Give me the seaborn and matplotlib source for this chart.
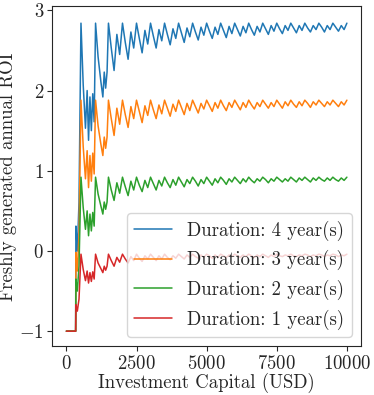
import numpy as np
import pandas as pd
import seaborn as sns
import matplotlib.pyplot as plt

# investment capital samples (USD)
x_early = [0, 330, 340, 390, 450, 520, 600, 680, 740, 790, 840, 890, 940, 990,
           1040, 1130, 1230, 1300, 1350, 1400, 1450]
x_late = list(range(1500, 10001, 100))

# ROI per duration
roi4_early = [-1, -1, 0.31, 0.00, 0.61, 2.84, 2.07, 1.53, 2.00, 1.38, 1.92, 1.50, 1.96, 1.61,
              2.84, 2.42, 2.11, 1.92, 2.23, 2.03, 2.23]
roi3_early = [-1, -1, -0.02, -0.25, 0.21, 1.88, 1.30, 0.90, 1.25, 0.79, 1.19, 0.87, 1.22, 0.96,
              1.88, 1.56, 1.33, 1.19, 1.42, 1.28, 1.42]
roi2_early = [-1, -1, -0.35, -0.50, -0.19, 0.92, 0.54, 0.27, 0.50, 0.19, 0.46, 0.25, 0.48, 0.31,
              0.92, 0.71, 0.56, 0.46, 0.61, 0.52, 0.61]
roi1_early = [-1, -1, -0.67, -0.75, -0.60, -0.04, -0.23, -0.37, -0.25, -0.40, -0.27, -0.38, -0.26, -0.35,
              -0.04, -0.15, -0.22, -0.27, -0.19, -0.24, -0.19]

roi4_late = [2.84, 2.53, 2.25, 2.70, 2.45,  2.84, 2.60, 2.39, 2.73, 2.53,
             2.84, 2.65, 2.47, 2.75, 2.58,  2.84, 2.68, 2.53, 2.76, 2.62,
             2.84, 2.70, 2.57, 2.77, 2.65,  2.84, 2.72, 2.60, 2.78, 2.67,
             2.84, 2.73, 2.63, 2.79, 2.69,  2.84, 2.74, 2.65, 2.79, 2.70,
             2.84, 2.75, 2.66, 2.80, 2.71,  2.84, 2.76, 2.68, 2.80, 2.72,
             2.84, 2.76, 2.69, 2.80, 2.73,  2.84, 2.77, 2.70, 2.81, 2.74,
             2.84, 2.77, 2.71, 2.81, 2.75,  2.84, 2.78, 2.72, 2.81, 2.75,
             2.84, 2.78, 2.73, 2.81, 2.76,  2.84, 2.79, 2.73, 2.81, 2.76,
             2.84, 2.79, 2.74, 2.81, 2.76,  2.84]
roi3_late = [1.88, 1.65, 1.44, 1.78, 1.58,  1.88, 1.70, 1.54, 1.80, 1.65,
             1.88, 1.74, 1.60, 1.81, 1.69,  1.88, 1.76, 1.65, 1.82, 1.71,
             1.88, 1.78, 1.68, 1.83, 1.74,  1.88, 1.79, 1.70, 1.84, 1.75,
             1.88, 1.80, 1.72, 1.84, 1.77,  1.88, 1.81, 1.74, 1.85, 1.78,
             1.88, 1.81, 1.75, 1.85, 1.79,  1.88, 1.82, 1.76, 1.85, 1.79,
             1.88, 1.82, 1.77, 1.85, 1.80,  1.88, 1.83, 1.78, 1.85, 1.80,
             1.88, 1.83, 1.78, 1.86, 1.81,  1.88, 1.83, 1.79, 1.86, 1.81,
             1.88, 1.84, 1.79, 1.86, 1.82,  1.88, 1.84, 1.80, 1.86, 1.82,
             1.88, 1.84, 1.80, 1.86, 1.82,  1.88]
roi2_late = [0.92, 0.76, 0.63, 0.85, 0.72,  0.92, 0.80, 0.69, 0.87, 0.76,
             0.92, 0.82, 0.74, 0.88, 0.79,  0.92, 0.84, 0.76, 0.88, 0.81,
             0.92, 0.85, 0.79, 0.89, 0.82,  0.92, 0.86, 0.80, 0.89, 0.84,
             0.92, 0.87, 0.81, 0.89, 0.84,  0.92, 0.87, 0.82, 0.90, 0.85,
             0.92, 0.88, 0.83, 0.90, 0.86,  0.92, 0.88, 0.84, 0.90, 0.86,
             0.92, 0.88, 0.85, 0.90, 0.87,  0.92, 0.89, 0.85, 0.90, 0.87,
             0.92, 0.89, 0.86, 0.90, 0.87,  0.92, 0.89, 0.86, 0.91, 0.88,
             0.92, 0.89, 0.86, 0.91, 0.88,  0.92, 0.89, 0.87, 0.91, 0.88,
             0.92, 0.89, 0.87, 0.91, 0.88,  0.92]
roi1_late = [-0.04, -0.12, -0.19, -0.08, -0.14,  -0.04, -0.10, -0.15, -0.07, -0.12,
             -0.04, -0.09, -0.13, -0.06, -0.10,  -0.04, -0.08, -0.12, -0.06, -0.10,
             -0.04, -0.08, -0.11, -0.06, -0.09,  -0.04, -0.07, -0.10, -0.05, -0.08,
             -0.04, -0.07, -0.09, -0.05, -0.08,  -0.04, -0.06, -0.09, -0.05, -0.08,
             -0.04, -0.06, -0.08, -0.05, -0.07,  -0.04, -0.06, -0.08, -0.05, -0.07,
             -0.04, -0.06, -0.08, -0.05, -0.07,  -0.04, -0.06, -0.08, -0.05, -0.07,
             -0.04, -0.06, -0.07, -0.05, -0.06,  -0.04, -0.06, -0.07, -0.05, -0.06,
             -0.04, -0.05, -0.07, -0.05, -0.06,  -0.04, -0.05, -0.07, -0.05, -0.06,
             -0.04, -0.05, -0.07, -0.05, -0.06,  -0.04]

labels = ["Duration: 4 year(s)", "Duration: 3 year(s)", "Duration: 2 year(s)", "Duration: 1 year(s)"]
colors = ["#1f77b4", "#ff7f0e", "#2ca02c", "#d62728"]

capital = x_early + x_late
series = [roi4_early + roi4_late, roi3_early + roi3_late,
          roi2_early + roi2_late, roi1_early + roi1_late]

sns.set_style("ticks")
plt.rcParams["font.family"] = ["cmr10"]
plt.rcParams["mathtext.fontset"] = "cm"
plt.rcParams["axes.formatter.use_mathtext"] = True
plt.rcParams["font.size"] = 13.5

fig, ax = plt.subplots(figsize=(3.74, 3.95), dpi=100)
fig.subplots_adjust(left=0.14, right=0.965, top=0.984, bottom=0.123)

for lab, col, roi in zip(labels, colors, series):
    sns.lineplot(x=capital, y=roi, ax=ax, color=col, label=lab, lw=1.1, sort=False)

ax.set_xlim(-500, 10500)
ax.set_ylim(-1.19, 3.05)
ax.set_xticks([0, 2500, 5000, 7500, 10000])
ax.set_yticks([-1, 0, 1, 2, 3])
ax.tick_params(pad=2.5)
ax.set_xlabel("Investment Capital (USD)", labelpad=0)
ax.set_ylabel("Freshly generated annual ROI", labelpad=2)
ax.legend(loc="lower right")

fig.savefig("out.png", dpi=100)
